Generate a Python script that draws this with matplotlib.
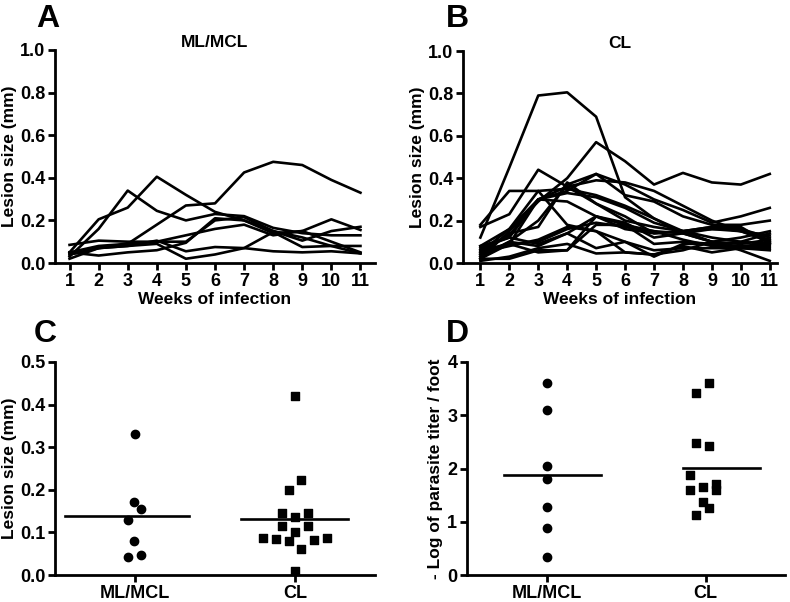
import numpy as np
import matplotlib
matplotlib.use("Agg")
from matplotlib import pyplot as plt

plt.rcParams['font.family'] = ['Liberation Sans', 'DejaVu Sans']
plt.rcParams['font.weight'] = 'bold'

# semanas de infeccion
weeks = np.arange(1, 12)

# Panel A: ML/MCL, tamano de lesion por animal
ml_curves = [
    [0.04, 0.07, 0.09, 0.18, 0.27, 0.28, 0.425, 0.475, 0.46, 0.39, 0.33],
    [0.05, 0.205, 0.26, 0.405, 0.32, 0.24, 0.20, 0.15, 0.12, 0.08, 0.045],
    [0.03, 0.16, 0.34, 0.245, 0.20, 0.23, 0.22, 0.165, 0.14, 0.13, 0.13],
    [0.085, 0.105, 0.10, 0.10, 0.10, 0.20, 0.215, 0.15, 0.105, 0.15, 0.17],
    [0.05, 0.08, 0.09, 0.10, 0.13, 0.16, 0.18, 0.13, 0.15, 0.205, 0.155],
    [0.04, 0.07, 0.08, 0.105, 0.055, 0.075, 0.07, 0.055, 0.05, 0.055, 0.045],
    [0.02, 0.07, 0.08, 0.09, 0.02, 0.04, 0.07, 0.145, 0.075, 0.08, 0.08],
    [0.05, 0.035, 0.05, 0.06, 0.095, 0.21, 0.20, 0.14, 0.15, 0.10, 0.05],
]

# Panel B: CL
cl_curves = [
    [0.12, 0.45, 0.79, 0.805, 0.69, 0.31, 0.21, 0.15, 0.10, 0.07, 0.10],
    [0.02, 0.15, 0.29, 0.40, 0.57, 0.48, 0.37, 0.425, 0.38, 0.37, 0.42],
    [0.18, 0.34, 0.34, 0.35, 0.32, 0.27, 0.21, 0.14, 0.10, 0.06, 0.01],
    [0.17, 0.23, 0.44, 0.36, 0.28, 0.20, 0.17, 0.15, 0.16, 0.15, 0.13],
    [0.08, 0.16, 0.30, 0.34, 0.42, 0.37, 0.30, 0.25, 0.19, 0.22, 0.26],
    [0.06, 0.13, 0.30, 0.36, 0.39, 0.38, 0.34, 0.27, 0.20, 0.15, 0.11],
    [0.05, 0.16, 0.34, 0.18, 0.15, 0.05, 0.04, 0.06, 0.10, 0.12, 0.15],
    [0.03, 0.10, 0.20, 0.37, 0.42, 0.32, 0.29, 0.22, 0.18, 0.18, 0.20],
    [0.07, 0.12, 0.30, 0.33, 0.31, 0.26, 0.19, 0.15, 0.17, 0.15, 0.10],
    [0.04, 0.14, 0.17, 0.38, 0.28, 0.22, 0.14, 0.15, 0.17, 0.17, 0.09],
    [0.02, 0.09, 0.30, 0.29, 0.22, 0.19, 0.12, 0.14, 0.16, 0.16, 0.12],
    [0.06, 0.09, 0.10, 0.16, 0.19, 0.17, 0.15, 0.14, 0.10, 0.09, 0.11],
    [0.03, 0.10, 0.08, 0.14, 0.22, 0.16, 0.14, 0.15, 0.12, 0.10, 0.09],
    [0.02, 0.02, 0.06, 0.06, 0.22, 0.18, 0.15, 0.11, 0.08, 0.08, 0.08],
    [0.01, 0.03, 0.07, 0.09, 0.045, 0.05, 0.04, 0.08, 0.05, 0.07, 0.06],
    [0.05, 0.08, 0.11, 0.17, 0.15, 0.10, 0.06, 0.07, 0.07, 0.07, 0.07],
    [0.04, 0.09, 0.05, 0.06, 0.18, 0.18, 0.09, 0.10, 0.09, 0.10, 0.14],
    [0.08, 0.12, 0.09, 0.14, 0.07, 0.10, 0.03, 0.09, 0.09, 0.08, 0.09],
]

groups = ['ML/MCL', 'CL']

# Panel C: tamano de lesion final
c_ml = [0.33, 0.172, 0.155, 0.13, 0.08, 0.048, 0.043]
c_ml_dx = [0.0, -0.005, 0.04, -0.045, -0.005, 0.04, -0.045]
c_cl = [0.42, 0.222, 0.20, 0.145, 0.145, 0.137, 0.115, 0.115, 0.101,
        0.088, 0.088, 0.085, 0.08, 0.083, 0.06, 0.01]
c_cl_dx = [0.0, 0.04, -0.04, -0.08, 0.08, 0.0, -0.08, 0.08, 0.0,
           -0.2, 0.2, -0.12, -0.04, 0.12, 0.04, 0.0]
c_means = [0.138, 0.131]

# Panel D: titulo de parasitos
d_ml = [3.6, 3.1, 2.05, 1.8, 1.27, 0.88, 0.33]
d_ml_dx = [0, 0, 0, 0, 0, 0, 0]
d_cl = [3.6, 3.42, 2.48, 2.42, 1.87, 1.6, 1.65, 1.7, 1.6, 1.38, 1.25, 1.12]
d_cl_dx = [0.025, -0.06, -0.06, 0.025, -0.1, -0.1, -0.017, 0.063, 0.063,
           -0.017, 0.025, -0.06]
d_means = [1.87, 2.01]

W, H = 790, 602
FS = 12.5
LW = 1.9
fig = plt.figure(figsize=(7.9, 6.02), dpi=100)


def px_axes(l, r, b, t):
    return fig.add_axes([l / W, (H - b) / H, (r - l) / W, (b - t) / H])


def style(ax):
    for s in ['top', 'right']:
        ax.spines[s].set_visible(False)
    for s in ['left', 'bottom']:
        ax.spines[s].set_linewidth(2.0)
    ax.tick_params(width=2.0, length=5, labelsize=13, pad=2)
    for lab in ax.get_xticklabels() + ax.get_yticklabels():
        lab.set_fontweight('bold')


axA = px_axes(55, 375, 263, 50)
for c in ml_curves:
    axA.plot(weeks, c, color='black', lw=LW, clip_on=False)
axA.set_xlim(0.5, 11.5)
axA.set_ylim(0, 1.0)
axA.set_xticks(weeks)
axA.set_yticks(np.arange(0, 1.01, 0.2))
axA.set_yticklabels(['%.1f' % v for v in np.arange(0, 1.01, 0.2)])
axA.set_xlabel('Weeks of infection', fontsize=FS, fontweight='bold', labelpad=2)
axA.set_ylabel('Lesion size (mm)', fontsize=FS, fontweight='bold', labelpad=2)
axA.set_title('ML/MCL', fontsize=FS, fontweight='bold', pad=2)
style(axA)

axB = px_axes(463, 777, 263, 51)
for c in cl_curves:
    axB.plot(weeks, c, color='black', lw=LW, clip_on=False)
axB.set_xlim(0.4, 11.25)
axB.set_ylim(0, 1.0)
axB.set_xticks(weeks)
axB.set_yticks(np.arange(0, 1.01, 0.2))
axB.set_yticklabels(['%.1f' % v for v in np.arange(0, 1.01, 0.2)])
axB.set_xlabel('Weeks of infection', fontsize=FS, fontweight='bold', labelpad=2)
axB.set_ylabel('Lesion size (mm)', fontsize=FS, fontweight='bold', labelpad=2)
axB.set_title('CL', fontsize=FS, fontweight='bold', pad=2)
style(axB)

axC = px_axes(55, 375, 575, 362)
axC.scatter(np.array(c_ml_dx) + 0, c_ml, marker='o', s=36, color='black', clip_on=False, zorder=3)
axC.scatter(np.array(c_cl_dx) + 1, c_cl, marker='s', s=40, color='black', clip_on=False, zorder=3)
axC.plot([-0.44, 0.34], [c_means[0]] * 2, color='black', lw=LW)
axC.plot([0.66, 1.33], [c_means[1]] * 2, color='black', lw=LW)
axC.set_xlim(-0.5, 1.5)
axC.set_ylim(0, 0.5)
axC.set_xticks([0, 1])
axC.set_xticklabels(groups)
axC.set_yticks(np.arange(0, 0.51, 0.1))
axC.set_yticklabels(['%.1f' % v for v in np.arange(0, 0.51, 0.1)])
axC.set_ylabel('Lesion size (mm)', fontsize=FS, fontweight='bold', labelpad=2)
style(axC)

axD = px_axes(467, 785, 575, 362)
axD.scatter(np.array(d_ml_dx) + 0, d_ml, marker='o', s=36, color='black', clip_on=False, zorder=3)
axD.scatter(np.array(d_cl_dx) + 1, d_cl, marker='s', s=40, color='black', clip_on=False, zorder=3)
axD.plot([-0.27, 0.34], [d_means[0]] * 2, color='black', lw=LW)
axD.plot([0.86, 1.34], [d_means[1]] * 2, color='black', lw=LW)
axD.set_xlim(-0.5, 1.5)
axD.set_ylim(0, 4)
axD.set_xticks([0, 1])
axD.set_xticklabels(groups)
axD.set_yticks([0, 1, 2, 3, 4])
axD.set_ylabel('- Log of parasite titer / foot', fontsize=FS, fontweight='bold', labelpad=3)
style(axD)

# letras de los paneles
for lbl, x, y in [('A', 36, 27), ('B', 446, 27), ('C', 34, 342), ('D', 446, 342)]:
    fig.text(x / W, (H - y) / H, lbl, fontsize=23, fontweight='bold', ha='left', va='baseline')

fig.savefig('out.png', dpi=100)
